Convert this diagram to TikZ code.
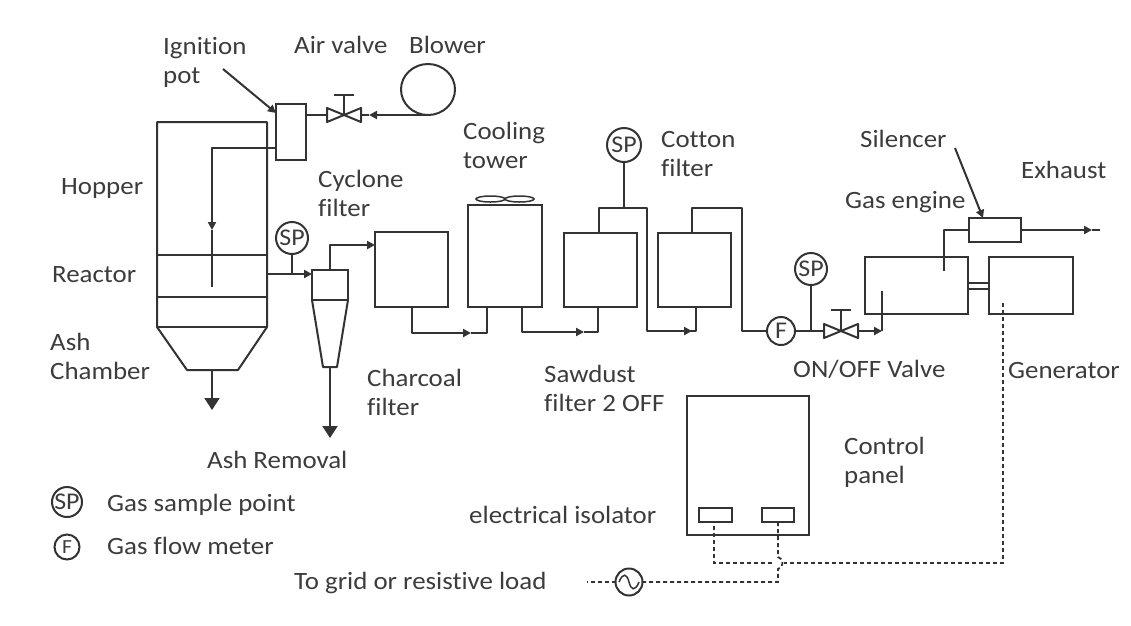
\documentclass[tikz,border=0pt]{standalone}
\usepackage{fontspec}
\setmainfont[FakeStretch=1.08,Ligatures=NoCommon]{Carlito}
\usetikzlibrary{arrows.meta,calc,shapes.geometric}
\definecolor{ink}{HTML}{333333}
\definecolor{txt}{HTML}{3C3C3C}
\tikzset{
  x=1pt,y=-1pt,
  pipe/.style={draw=ink,line width=2pt,line join=round},
  arr/.style={pipe,-{Triangle[length=8pt,width=8pt]}},
  bigarr/.style={pipe,-{Triangle[length=12pt,width=15pt]}},
  wire/.style={draw=ink,line width=1.8pt,dash pattern=on 4pt off 3pt},
  box/.style={draw=ink,line width=2pt,inner sep=0pt,outer sep=0pt,anchor=north west,fill=none},
  circ/.style={draw=ink,line width=2pt,circle,inner sep=0pt,outer sep=0pt,fill=white,text=txt},
  fan/.style={draw=ink,line width=1.5pt,ellipse,minimum width=29pt,minimum height=6pt,inner sep=0pt},
  lab/.style={text=txt,anchor=west,inner sep=0pt,font=\fontsize{24.9}{29}\selectfont,align=left},
  sptext/.style={font=\fontsize{24}{24}\selectfont},
}
\newcommand{\boxat}[5]{\node[box,minimum width=#4pt,minimum height=#5pt] (#1) at (#2,#3) {};}
\begin{document}
\begin{tikzpicture}
\useasboundingbox[fill=white] (0,0) rectangle (1131,625);
% ---- reactor
\coordinate (rtl) at (157,122); \coordinate (rtr) at (267,122);
\coordinate (rcl) at (157,327); \coordinate (rcr) at (267,327);
\coordinate (rbl) at (187,370); \coordinate (rbr) at (238,370);
\draw[pipe] (rtl) -- (rtr) -- (rcr) -- (rbr) -- (rbl) -- (rcl) -- cycle;
\draw[pipe] (157,255) -- (267,255);
\draw[pipe] (157,297) -- (267,297);
\draw[pipe] (rcl) -- (rcr);
% ignition pot
\boxat{pot}{276}{104}{30}{56}
\coordinate (potin) at (306,115);
\coordinate (potout) at (276,148);
\coordinate (downA) at (212,230);
\coordinate (downB) at (212,287);
\draw[arr] (potout) -| (downA);
\draw[pipe] (downA) -- (downB);
\coordinate (ignlab) at (223,69);
\coordinate (igntip) at (276,113);
\draw[arr] (ignlab) -- (igntip);
% blower and air valve
\node[draw=ink,line width=2pt,ellipse,inner sep=0pt,outer sep=0pt,minimum width=54pt,minimum height=51pt] (blower) at (428,89.5) {};
\coordinate (v1c) at (344,115);
\coordinate (v1t) at (344,95);
\draw[pipe] (v1c) -- (v1t);
\draw[pipe] (334,95) -- (354,95);
\draw[pipe] (v1c) -- (327,108) -- (327,122) -- cycle;
\draw[pipe] (v1c) -- (361,108) -- (361,122) -- cycle;
\coordinate (v1r) at (361,115);
\coordinate (v1a) at (369,115);
\draw[arr] (blower.south) -- (v1a);
\draw[pipe] (v1a) -- (v1r);
\draw[pipe] (potin) -- (327,115);
\coordinate (ashA) at (212,370);
\coordinate (ashB) at (212,410);
\draw[bigarr] (ashA) -- (ashB);
% SP 1, cyclone
\node[circ,minimum size=32pt,sptext] (sp1) at (292,238) {SP};
\coordinate (rout) at (267,274);
\coordinate (sp1j) at (292,274);
\draw[pipe] (sp1) -- (sp1j);
\coordinate (cyin) at (312,274);
\draw[arr] (rout) -- (cyin);
\boxat{cyc}{312}{270}{36}{30}
\coordinate (cb1) at (323,367); \coordinate (cb2) at (337,367);
\draw[pipe] (cyc.south west) -- (cb1) -- (cb2) -- (cyc.south east);
\coordinate (cydown) at (330,438);
\coordinate (cytop) at (330,270);
\draw[bigarr] (330,367) -- (cydown);
% charcoal filter
\boxat{char}{375}{232}{73}{75}
\coordinate (charin) at (375,245);
\draw[arr] (cytop) |- (charin);
% cooling tower
\boxat{tower}{468}{205}{74}{102}
\node[fan] (fan1) at (490.5,199) {};
\node[fan] (fan2) at (519.5,199) {};
\coordinate (t1) at (487,307);
\coordinate (t2) at (522,307);
\coordinate (a1) at (471,333);
\draw[arr] (char.south) |- (a1);
\draw[pipe] (a1) -| (t1);
% sawdust
\boxat{saw}{564}{233}{73}{74}
\coordinate (a2) at (584,332);
\coordinate (s1) at (598,307);
\draw[arr] (t2) |- (a2);
\draw[pipe] (a2) -| (s1);
\coordinate (s2) at (599,233);
\coordinate (topS) at (599,208);
\coordinate (sp3j) at (624,208);
\coordinate (sdrop) at (647,208);
\coordinate (a3) at (692,331);
\coordinate (c1) at (696,307);
\draw[pipe] (s2) -- (topS) -- (sdrop) |- (a3);
\draw[arr] (647,331) -- (a3);
\draw[pipe] (a3) -| (c1);
\node[circ,minimum size=34pt,sptext] (sp3) at (624,145) {SP};
\draw[pipe] (sp3) -- (sp3j);
% cotton
\boxat{cot}{658}{233}{73}{74}
\node[circ,minimum size=28pt,sptext] (fm) at (781,331) {F};
\coordinate (c2) at (692,233);
\coordinate (ctop) at (692,208);
\coordinate (cdrop) at (742,208);
\draw[pipe] (c2) -- (ctop) -- (cdrop) |- (fm.west);
% on/off valve
\node[circ,minimum size=32pt,sptext] (sp4) at (811,269) {SP};
\coordinate (sp4j) at (811,331);
\draw[pipe] (sp4) -- (sp4j);
\coordinate (v2c) at (841,331);
\draw[pipe] (fm.east) -- (824,331);
\draw[pipe] (v2c) -- (841,310);
\draw[pipe] (831,310) -- (851,310);
\draw[pipe] (v2c) -- (824,324) -- (824,338) -- cycle;
\draw[pipe] (v2c) -- (858,324) -- (858,338) -- cycle;
\coordinate (v2r) at (858,331);
\coordinate (a4) at (882,331);
\coordinate (einl) at (882,291);
\draw[arr] (v2r) -- (a4);
\draw[pipe] (a4) -- (einl);
% engine, generator, silencer
\boxat{eng}{865}{257}{103}{57}
\boxat{gen}{989}{257}{84}{57}
\draw[pipe] (968,283) -- (989,283);
\draw[pipe] (968,289) -- (989,289);
\boxat{sil}{969}{218}{52}{24}
\coordinate (eout) at (944,271);
\draw[pipe] (eout) |- (sil.west);
\coordinate (exh) at (1092,230);
\coordinate (exhend) at (1100,230);
\draw[arr] (sil.east) -- (exh);
\draw[pipe] (exh) -- (exhend);
\coordinate (sillab) at (955,148);
\coordinate (siltip) at (983,218);
\draw[arr] (sillab) -- (siltip);
% control panel
\boxat{panel}{687}{396}{122}{139}
\boxat{iso1}{699}{508}{33}{14}
\boxat{iso2}{762}{508}{32}{14}
\node[circ,minimum size=27pt] (ac) at (629,582) {};
\draw[draw=ink,line width=1.5pt] (619,582) .. controls (623,572) and (627,574) .. (629,582) .. controls (631,590) and (635,592) .. (639,582);
% dashed wiring
\coordinate (gendash) at (1003,303);
\coordinate (iso1b) at (714,522);
\coordinate (corner) at (1003,563);
\coordinate (isoL) at (714,563);
\coordinate (iso2b) at (778,522);
\coordinate (iso2c) at (778,582);
\coordinate (gridend) at (587,582);
\draw[wire] (gendash) -- (corner) -- (784,563);
\draw[wire] (772,563) -- (isoL) -- (iso1b);
\draw[wire] (iso2b) -- (778,557) .. controls (784,558) and (784,568) .. (778,569) -- (iso2c) -- (ac.east);
\draw[wire] (ac.west) -- (gridend);
% legend
\node[circ,minimum size=30pt,sptext] (sp0) at (67,502) {SP};
\node[circ,minimum size=25pt,font=\fontsize{20}{20}\selectfont] (f0) at (67,547) {F};
% labels
\node[lab] (l1) at (163,62) {Ignition\\pot};
\node[lab] (l2) at (294,45) {Air valve};
\node[lab] (l3) at (409,45) {Blower};
\node[lab] (l4) at (463,145) {Cooling\\tower};
\node[lab] (l5) at (61,189) {Hopper};
\node[lab] (l6) at (318,193) {Cyclone\\filter};
\node[lab] (l7) at (661,154) {Cotton\\filter};
\node[lab] (l8) at (860,139) {Silencer};
\node[lab] (l9) at (1021,170) {Exhaust};
\node[lab] (l10) at (845,202) {Gas engine};
\node[lab] (l11) at (52,275) {Reactor};
\node[lab] (l12) at (50,356) {Ash\\Chamber};
\node[lab] (l13) at (367,392) {Charcoal\\filter};
\node[lab] (l14) at (544,388) {Sawdust\\filter 2 OFF};
\node[lab] (l15) at (793,369) {ON/OFF Valve};
\node[lab] (l16) at (1008,371) {Generator};
\node[lab] (l17) at (207,460) {Ash Removal};
\node[lab] (l18) at (844,462) {Control\\panel};
\node[lab] (l19) at (469,515) {electrical isolator};
\node[lab] (l20) at (294,583) {To grid or resistive load};
\node[lab] (l21) at (107,505) {Gas sample point};
\node[lab] (l22) at (107,546) {Gas flow meter};
\end{tikzpicture}
\end{document}
